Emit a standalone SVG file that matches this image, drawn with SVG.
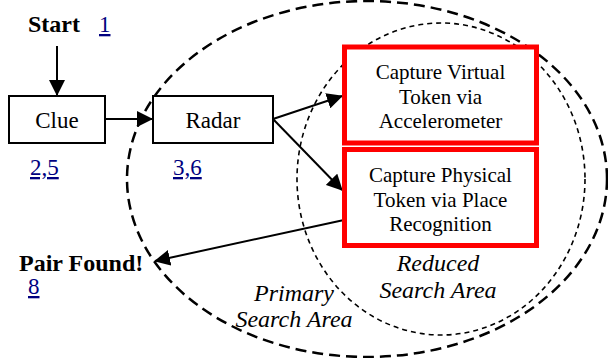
<svg xmlns="http://www.w3.org/2000/svg" width="608" height="358" viewBox="0 0 608 358">
<style>
text{font-family:"Liberation Serif","Times New Roman","DejaVu Serif",serif;fill:#000}
.b{font-weight:bold;font-size:24px}
.box{fill:#fff;stroke:#000;stroke-width:2}
.red{fill:#fff;stroke:#ff0000;stroke-width:5}
.bt{font-size:21px;text-anchor:middle}
.nt{font-size:23px;text-anchor:middle}
.lnk{font-size:23px;fill:#000080;text-decoration:underline}
.it{font-style:italic;font-size:24px;text-anchor:middle}
.con{fill:none;stroke:#000;stroke-width:2}
</style>
<defs>
<marker id="ah" markerUnits="userSpaceOnUse" markerWidth="16" markerHeight="16" viewBox="0 0 16 16" refX="15" refY="8" orient="auto">
<path d="M0,0 L16,8 L0,16 Z" fill="#000"/>
</marker>
</defs>
<g id="areas">
<ellipse cx="367" cy="179" rx="240" ry="178" fill="none" stroke="#000" stroke-width="2.5" stroke-dasharray="11,6"/>
<ellipse cx="441" cy="179" rx="144" ry="156" fill="none" stroke="#000" stroke-width="1.6" stroke-dasharray="5,4"/>
<text class="it" x="438" y="271">Reduced</text>
<text class="it" x="438" y="298">Search Area</text>
<text class="it" x="294" y="301">Primary</text>
<text class="it" x="294" y="327">Search Area</text>
</g>
<g id="connectors">
<line class="con" x1="57" y1="46" x2="57" y2="95" marker-end="url(#ah)"/>
<line class="con" x1="105" y1="119" x2="152" y2="119" marker-end="url(#ah)"/>
<line class="con" x1="273" y1="119" x2="342" y2="96" marker-end="url(#ah)"/>
<line class="con" x1="273" y1="119" x2="342" y2="190" marker-end="url(#ah)"/>
<line class="con" x1="344" y1="220" x2="155" y2="261" marker-end="url(#ah)"/>
</g>
<g id="start">
<text class="b" x="28" y="32">Start</text>
<text class="lnk" x="99" y="32">1</text>
</g>
<g id="clue">
<rect class="box" x="9" y="96" width="96" height="47"/>
<text class="nt" x="57" y="128">Clue</text>
<text class="lnk" x="30" y="175">2,5</text>
</g>
<g id="radar">
<rect class="box" x="153" y="96" width="120" height="47"/>
<text class="nt" x="213" y="128">Radar</text>
<text class="lnk" x="173" y="175">3,6</text>
</g>
<g id="virtual">
<rect class="red" x="344.5" y="47" width="192" height="96"/>
<text class="bt" x="440.5" y="79">Capture Virtual</text>
<text class="bt" x="440.5" y="103.5">Token via</text>
<text class="bt" x="440.5" y="128">Accelerometer</text>
</g>
<g id="physical">
<rect class="red" x="344.5" y="149.5" width="192" height="96"/>
<text class="bt" x="440.5" y="182">Capture Physical</text>
<text class="bt" x="440.5" y="207">Token via Place</text>
<text class="bt" x="440.5" y="231">Recognition</text>
</g>
<g id="pair">
<text class="b" x="19" y="271">Pair Found!</text>
<text class="lnk" x="28" y="294">8</text>
</g>
</svg>
